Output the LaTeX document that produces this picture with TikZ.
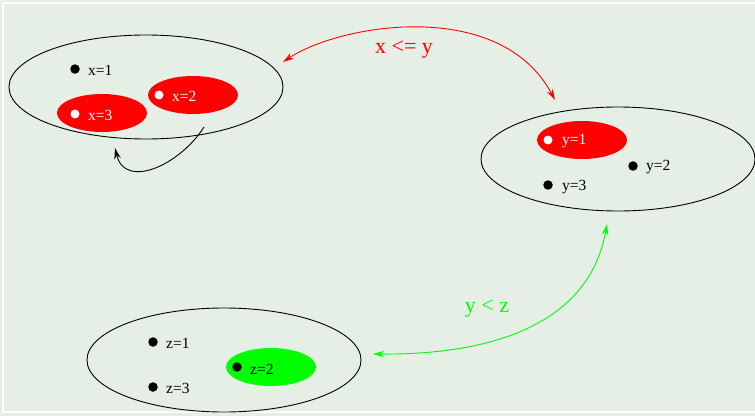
\documentclass[tikz,border=0pt]{standalone}
\usepackage{fontspec}
\setmainfont{Liberation Serif}
\usetikzlibrary{shapes.geometric,arrows.meta}
\definecolor{bgcol}{HTML}{E5EFE5}
\definecolor{fred}{HTML}{FF0000}
\definecolor{fgreen}{HTML}{00FF00}
\tikzset{
  valdomain/.style={draw=black, line width=0.9pt, ellipse, inner sep=0pt,
    minimum width=274pt, minimum height=104pt},
  valsubset/.style={ellipse, inner sep=0pt, minimum width=90pt, minimum height=38pt},
  bdot/.style={circle, fill=black, inner sep=0pt, minimum size=9.5pt},
  wdot/.style={circle, fill=white, inner sep=0pt, minimum size=9pt},
  vallabel/.style={anchor=west, inner sep=0pt, font=\fontsize{15.5}{15.5}\selectfont},
  rellabel/.style={inner sep=0pt, font=\fontsize{22}{22}\selectfont},
  onetip/.style={-{Stealth[length=11pt,width=6.5pt,inset=3.5pt]}},
  twotips/.style={{Stealth[length=11pt,width=6.5pt,inset=3.5pt]}-{Stealth[length=11pt,width=6.5pt,inset=3.5pt]}},
}
\begin{document}
\begin{tikzpicture}[x=1pt,y=-1pt]
  % canvas and frame
  \useasboundingbox (0,0) rectangle (755,415);
  \fill[bgcol] (-5,-5) rectangle (765,425);
  \draw[white, line width=1.5pt] (770,3) -- (3,3) -- (3,412) -- (770,412);

  % domain of x
  \node[valdomain] (X) at (146,87) {};
  \node[valsubset, fill=fred] (X3) at (102,113) {};
  \node[valsubset, fill=fred] (X2) at (193,95) {};
  \node[bdot] (x1d) at (75,69) {};
  \node[vallabel] (x1) at (88,70) {x=1};
  \node[wdot] (x3d) at (75,114) {};
  \node[vallabel, text=white] (x3) at (88,115) {x=3};
  \node[wdot] (x2d) at (159,95) {};
  \node[vallabel, text=white] (x2) at (172,96) {x=2};

  % domain of y
  \node[valdomain] (Y) at (618,159) {};
  \node[valsubset, fill=fred] (Y1) at (582,140) {};
  \node[wdot] (y1d) at (548,140) {};
  \node[vallabel, text=white] (y1) at (562,141) {y=1};
  \node[bdot] (y2d) at (633,166) {};
  \node[vallabel] (y2) at (646,167) {y=2};
  \node[bdot] (y3d) at (548,185) {};
  \node[vallabel] (y3) at (562,187) {y=3};

  % domain of z
  \node[valdomain] (Z) at (224,360) {};
  \node[valsubset, fill=fgreen] (Z2) at (271,367) {};
  \node[bdot] (z1d) at (153,342) {};
  \node[vallabel] (z1) at (166,343) {z=1};
  \node[bdot] (z2d) at (237,367) {};
  \node[vallabel] (z2) at (250,369) {z=2};
  \node[bdot] (z3d) at (153,387) {};
  \node[vallabel] (z3) at (166,388) {z=3};

  % connector end points
  \coordinate (xs) at (204,127);
  \coordinate (xe) at (115,148);
  \coordinate (xr) at (283,62);
  \coordinate (yl) at (555,100);
  \coordinate (yb) at (607,224);
  \coordinate (zr) at (373,354);

  % self loop on x
  \draw[onetip, line width=0.9pt] (xs) .. controls (180,165) and (125,190) .. (xe);

  % constraint x <= y
  \draw[twotips, fred, line width=0.9pt] (xr) .. controls (340,24) and (500,-3) .. (yl);
  \node[rellabel, text=fred] (lxy) at (404,50) {x <= y};

  % constraint y < z
  \draw[twotips, fgreen, line width=0.9pt] (zr) .. controls (500,355) and (590,320) .. (yb);
  \node[rellabel, text=fgreen] (lyz) at (487,309) {y < z};
\end{tikzpicture}
\end{document}
